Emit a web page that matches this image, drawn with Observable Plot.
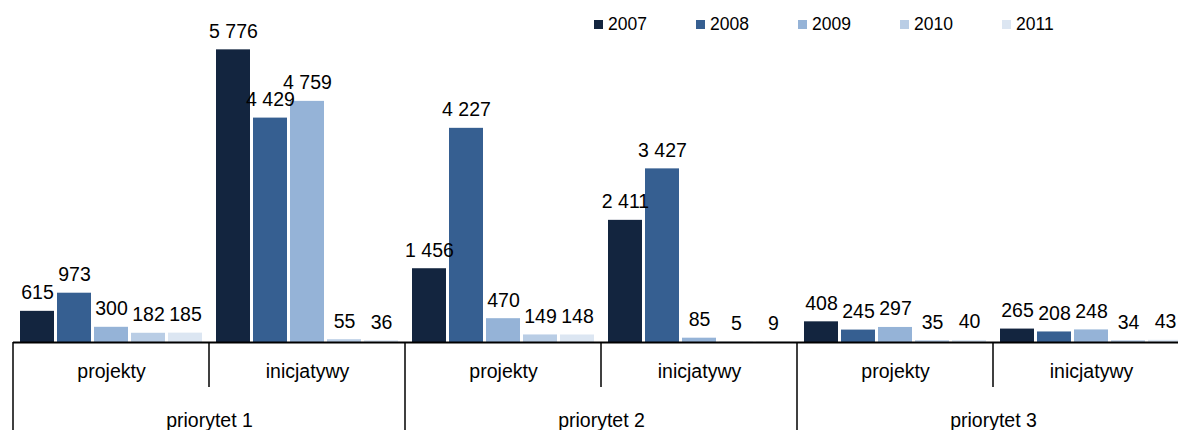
<!DOCTYPE html>
<html><head><meta charset="utf-8">
<script src="https://cdn.jsdelivr.net/npm/d3@7"></script>
<script src="https://cdn.jsdelivr.net/npm/@observablehq/plot@0.6"></script>
<style>
html,body{margin:0;padding:0;background:#fff;overflow:hidden}
#wrap{position:relative;width:1178px;height:430px;font-family:"Liberation Sans",Arial,sans-serif}
#legend{position:absolute;left:594px;top:14px;display:flex}
.item{width:102px;display:flex;align-items:center;font-size:17.5px;color:#000;line-height:20px}
.sw{width:9px;height:9px;margin-right:5px;flex:none}
</style></head><body><div id="wrap"><div id="legend"></div></div>
<script>
const priorities = ["priorytet 1", "priorytet 2", "priorytet 3"];
const types = ["projekty", "inicjatywy"];
const years = ["2007", "2008", "2009", "2010", "2011"];
const colors = ["#13253f", "#365f91", "#95b3d7", "#b9cde5", "#dce6f2"];
// values per group: p1 projekty, p1 inicjatywy, p2 projekty, p2 inicjatywy, p3 projekty, p3 inicjatywy
const v2007 = [615, 5776, 1456, 2411, 408, 265];
const v2008 = [973, 4429, 4227, 3427, 245, 208];
const v2009 = [300, 4759, 470, 85, 297, 248];
const v2010 = [182, 55, 149, 5, 35, 34];
const v2011 = [185, 36, 148, 9, 40, 43];
const series = [v2007, v2008, v2009, v2010, v2011];

const groups = [];
priorities.forEach(p => types.forEach(t => groups.push({priority: p, type: t, key: p + " | " + t})));
const groupKeys = groups.map(g => g.key);
const rows = [];
groups.forEach((g, gi) => years.forEach((yr, yi) => rows.push({key: g.key, year: yr, value: series[yi][gi]})));

const fmt = d3.formatLocale({thousands: " ", grouping: [3], decimal: ",", currency: ["", ""]}).format(",d");

const plot = Plot.plot({
  width: 1178, height: 430,
  marginLeft: 12, marginRight: -11, marginTop: 38, marginBottom: 88,
  style: {fontFamily: "'Liberation Sans', Arial, sans-serif", fontSize: "19.5px", color: "#000", background: "#fff"},
  fx: {domain: groupKeys, padding: 0, axis: null},
  x: {domain: years, paddingInner: 0.07, paddingOuter: 0.17, axis: null},
  y: {domain: [0, 6000], axis: null},
  color: {domain: years, range: colors},
  marks: [
    Plot.barY(rows, {fx: "key", x: "year", y: "value", fill: "year"}),
    Plot.ruleY([0], {stroke: "#000", strokeWidth: 2}),
    Plot.text(rows, {fx: "key", x: "year", y: "value", text: d => fmt(d.value), lineAnchor: "bottom", dy: -12, fill: "#000"}),
    Plot.text(groups, {fx: "key", text: "type", frameAnchor: "bottom", lineAnchor: "bottom", dy: 35, fill: "#000"}),
    Plot.text(groups.filter(g => g.type === types[0]), {fx: "key", text: "priority", frameAnchor: "bottom-right", textAnchor: "middle", lineAnchor: "bottom", dy: 84, fill: "#000"})
  ]
});

// group separators derived from the fx band scale
const fxs = plot.scale("fx");
const y0 = plot.scale("y").apply(0);
const svg = d3.select(plot);
groups.forEach(g => {
  const x = fxs.apply(g.key);
  svg.append("line")
    .attr("x1", x).attr("x2", x)
    .attr("y1", y0).attr("y2", g.type === types[0] ? 430 : y0 + 45)
    .attr("stroke", "#000").attr("stroke-width", 1.5);
});

document.getElementById("wrap").prepend(plot);
const legend = d3.select("#legend");
years.forEach((yr, i) => {
  const it = legend.append("div").attr("class", "item");
  it.append("div").attr("class", "sw").style("background", colors[i]);
  it.append("span").text(yr);
});
</script>
</body></html>
